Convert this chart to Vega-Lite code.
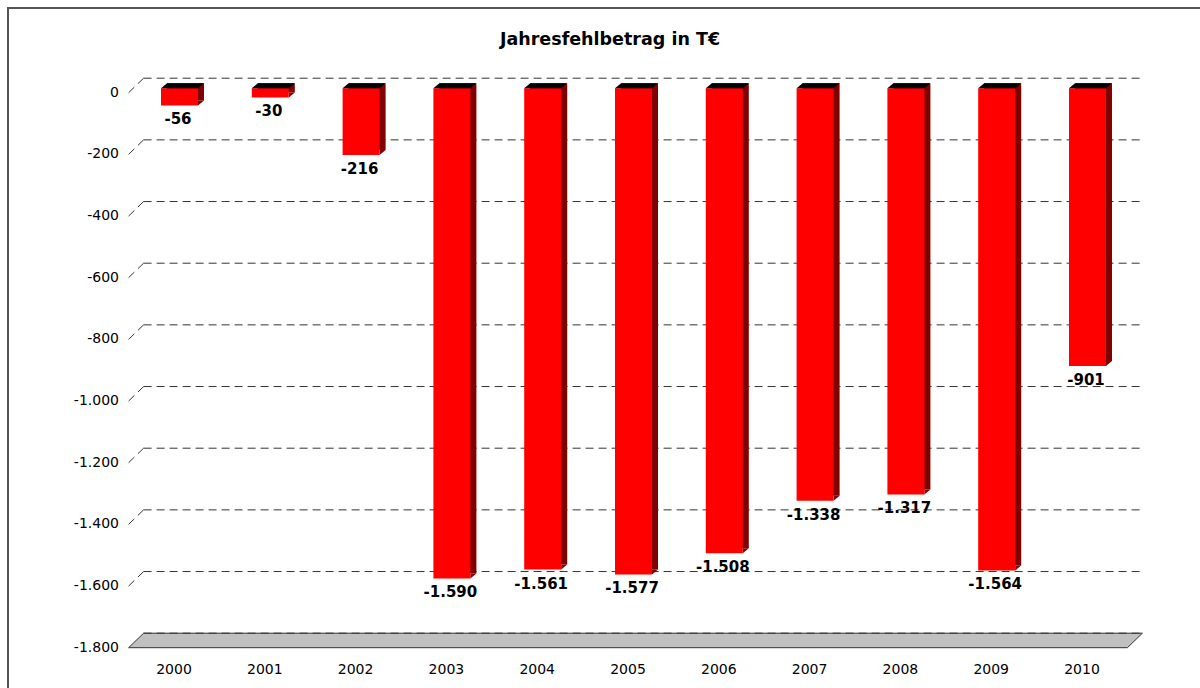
{
  "$schema": "https://vega.github.io/schema/vega-lite/v6.json",
  "autosize": "none",
  "width": 1192,
  "height": 680,
  "padding": {"left": 8, "top": 8, "right": 0, "bottom": 0},
  "background": "white",
  "title": {
    "text": "Jahresfehlbetrag in T€",
    "font": "DejaVu Sans",
    "fontSize": 17.5,
    "fontWeight": "bold",
    "color": "#000000",
    "anchor": "middle",
    "frame": "group",
    "offset": -40,
    "dx": 6
  },
  "config": {
    "locale": {"number": {"decimal": ",", "thousands": ".", "grouping": [3], "currency": ["", " €"], "minus": "-"}},
    "view": {"stroke": "#555555", "strokeWidth": 2, "strokeDash": [1192, 1872, 682]}
  },
  "datasets": {
    "bars": [
      {"year": "2000", "value": -56},
      {"year": "2001", "value": -30},
      {"year": "2002", "value": -216},
      {"year": "2003", "value": -1590},
      {"year": "2004", "value": -1561},
      {"year": "2005", "value": -1577},
      {"year": "2006", "value": -1508},
      {"year": "2007", "value": -1338},
      {"year": "2008", "value": -1317},
      {"year": "2009", "value": -1564},
      {"year": "2010", "value": -901}
    ],
    "grid": [
      {"v": 0}, {"v": -200}, {"v": -400}, {"v": -600}, {"v": -800},
      {"v": -1000}, {"v": -1200}, {"v": -1400}, {"v": -1600}, {"v": -1800}
    ],
    "one": [{"k": 1}]
  },
  "layer": [
    {
      "data": {"name": "bars"},
      "mark": {"type": "bar", "width": 37, "opacity": 0, "xOffset": 5.5},
      "encoding": {
        "x": {
          "field": "year", "type": "nominal", "sort": null,
          "scale": {"type": "band", "domain": ["2000","2001","2002","2003","2004","2005","2006","2007","2008","2009","2010"], "range": [120.6, 1119.4], "paddingInner": 0, "paddingOuter": 0},
          "axis": null
        },
        "y": {
          "field": "value", "type": "quantitative",
          "scale": {"domain": [-1800, 0], "range": [639.7, 84.7], "nice": false, "zero": false},
          "axis": null
        }
      }
    },
    {
      "data": {"name": "one"},
      "mark": {"type": "point", "shape": "M-499.4,0L499.4,0L514.4,-14.5L-484.4,-14.5Z", "size": 4, "filled": true, "fill": "#c0c0c0", "stroke": "#333333", "strokeWidth": 1, "opacity": 1},
      "encoding": {
        "x": {"datum": "2005", "type": "nominal", "axis": null},
        "y": {"datum": -1800, "type": "quantitative", "axis": null}
      }
    },
    {
      "data": {"name": "grid"},
      "mark": {"type": "rule", "color": "#333333", "strokeWidth": 1, "strokeDash": [8, 5], "xOffset": -30.4, "x2Offset": 60.4, "yOffset": -14.5},
      "encoding": {
        "x": {"datum": "2000", "type": "nominal", "axis": null},
        "x2": {"datum": "2010"},
        "y": {"field": "v", "type": "quantitative", "axis": null}
      }
    },
    {
      "data": {"name": "grid"},
      "transform": [{"filter": "datum.v > -1800"}],
      "mark": {"type": "rule", "color": "#333333", "strokeWidth": 1, "strokeDash": [8, 5], "xOffset": -45.4, "x2Offset": -30.4, "y2Offset": -14.5},
      "encoding": {
        "x": {"datum": "2000", "type": "nominal", "axis": null},
        "x2": {"datum": "2000"},
        "y": {"field": "v", "type": "quantitative", "axis": null},
        "y2": {"field": "v"}
      }
    },
    {
      "data": {"name": "grid"},
      "mark": {"type": "text", "font": "DejaVu Sans", "fontSize": 14, "color": "#000000", "align": "right", "baseline": "middle", "xOffset": -55},
      "encoding": {
        "x": {"datum": "2000", "type": "nominal", "axis": null},
        "y": {"field": "v", "type": "quantitative", "axis": null},
        "text": {"field": "v", "type": "quantitative", "format": ",.0f"}
      }
    },
    {
      "data": {"name": "bars"},
      "mark": {"type": "text", "font": "DejaVu Sans", "fontSize": 14, "color": "#000000", "align": "center", "baseline": "middle", "yOffset": 22.5},
      "encoding": {
        "x": {"field": "year", "type": "nominal", "axis": null},
        "y": {"datum": -1800, "type": "quantitative", "axis": null},
        "text": {"field": "year", "type": "nominal"}
      }
    },
    {
      "data": {"name": "bars"},
      "mark": {"type": "bar", "width": 37, "color": "#800000", "xOffset": 11.5, "yOffset": -9.4, "y2Offset": -9.4},
      "encoding": {
        "x": {"field": "year", "type": "nominal", "axis": null},
        "y": {"field": "value", "type": "quantitative", "axis": null},
        "y2": {"datum": 0}
      }
    },
    {
      "data": {"name": "bars"},
      "mark": {"type": "point", "shape": "M18.5,0L24.5,-5L18.5,-5Z", "size": 4, "filled": true, "fill": "#800000", "strokeWidth": 0, "opacity": 1, "xOffset": 5.5, "yOffset": -4.4},
      "encoding": {
        "x": {"field": "year", "type": "nominal", "axis": null},
        "y": {"field": "value", "type": "quantitative", "axis": null}
      }
    },
    {
      "data": {"name": "bars"},
      "mark": {"type": "bar", "width": 37, "color": "#ff0000", "xOffset": 5.5, "yOffset": -4.4, "y2Offset": -4.4},
      "encoding": {
        "x": {"field": "year", "type": "nominal", "axis": null},
        "y": {"field": "value", "type": "quantitative", "axis": null},
        "y2": {"datum": 0}
      }
    },
    {
      "data": {"name": "bars"},
      "mark": {"type": "point", "shape": "M-18.5,0L18.5,0L24.5,-5L-12.5,-5Z", "size": 4, "filled": true, "fill": "#000000", "strokeWidth": 0, "opacity": 1, "xOffset": 5.5, "yOffset": -4.4},
      "encoding": {
        "x": {"field": "year", "type": "nominal", "axis": null},
        "y": {"datum": 0, "type": "quantitative", "axis": null}
      }
    },
    {
      "data": {"name": "bars"},
      "mark": {"type": "text", "font": "DejaVu Sans", "fontSize": 15, "fontWeight": "bold", "color": "#000000", "baseline": "middle", "align": "center", "xOffset": 4, "yOffset": 9.5},
      "encoding": {
        "x": {"field": "year", "type": "nominal", "axis": null},
        "y": {"field": "value", "type": "quantitative", "axis": null},
        "text": {"field": "value", "type": "quantitative", "format": ",.0f"}
      }
    }
  ]
}
